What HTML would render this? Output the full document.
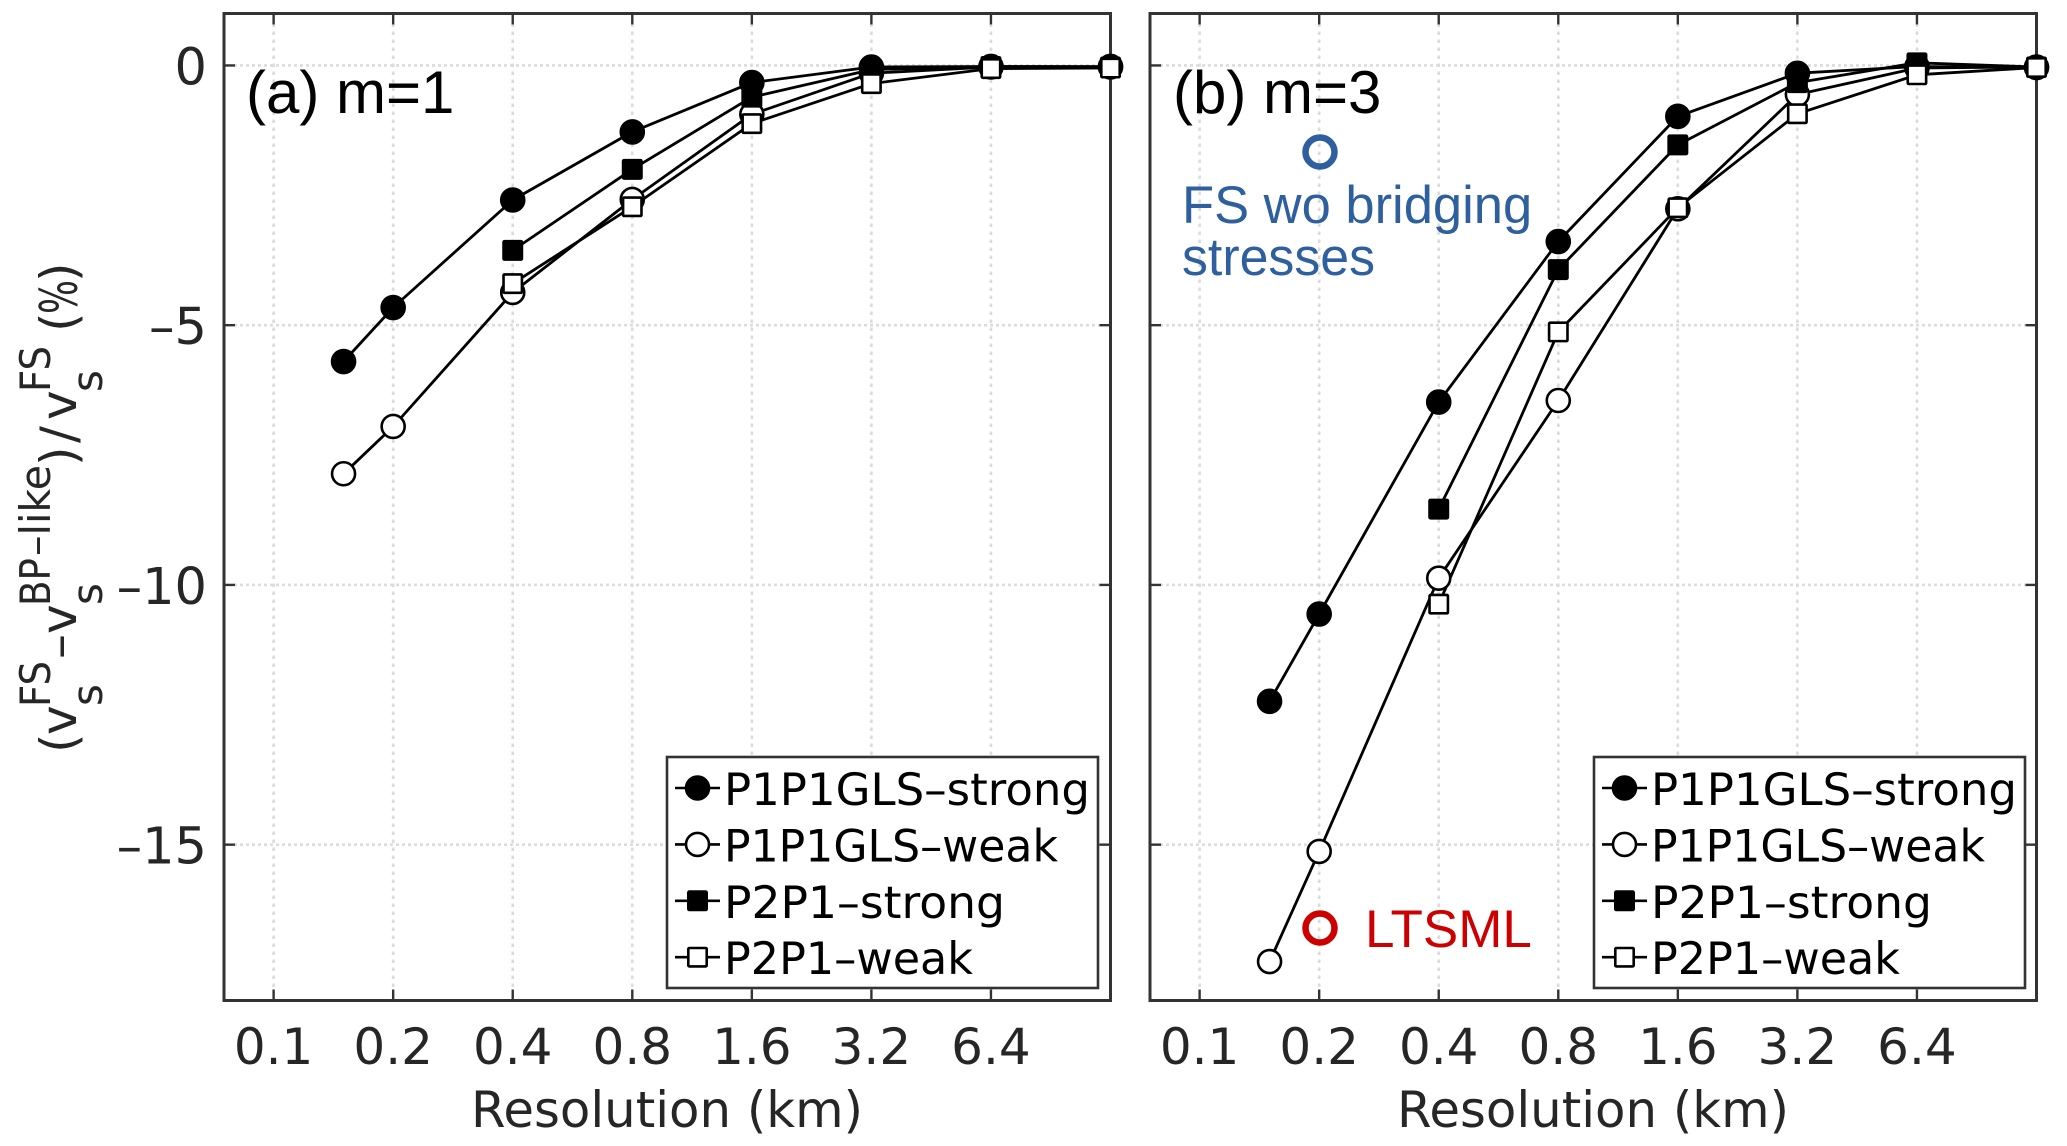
<!DOCTYPE html>
<html lang="en">
<head>
<meta charset="utf-8">
<title>Relative velocity difference versus resolution</title>
<style>
  html, body { margin: 0; padding: 0; background: #fff; }
  svg { display: block; }
  text { font-family: "DejaVu Sans", sans-serif; }
</style>
</head>
<body>
<svg id="figure" xmlns="http://www.w3.org/2000/svg" width="2067" height="1146" viewBox="0 0 2067 1146">
  <rect x="0" y="0" width="2067" height="1146" fill="#ffffff"/>
  <g id="panel-a"></g>
  <g id="panel-b"></g>

  <g fill="#262626">
    <text transform="translate(76,753) rotate(-90)" font-size="50">(</text>
    <text transform="translate(76,735) rotate(-90)" font-size="50">v</text>
    <text transform="translate(50,707) rotate(-90)" font-size="42" textLength="46" lengthAdjust="spacingAndGlyphs">FS</text>
    <text transform="translate(102,706) rotate(-90)" font-size="42">s</text>
    <text transform="translate(76,659) rotate(-90)" font-size="50">–</text>
    <text transform="translate(76,634) rotate(-90)" font-size="50">v</text>
    <text transform="translate(50,606) rotate(-90)" font-size="42" textLength="48" lengthAdjust="spacingAndGlyphs">BP</text>
    <text transform="translate(102,605) rotate(-90)" font-size="42">s</text>
    <text transform="translate(50,556) rotate(-90)" font-size="42" textLength="91" lengthAdjust="spacingAndGlyphs">–like</text>
    <text transform="translate(76,466) rotate(-90)" font-size="50">)</text>
    <text transform="translate(76,443) rotate(-90)" font-size="50">/</text>
    <text transform="translate(76,420) rotate(-90)" font-size="50">v</text>
    <text transform="translate(50,392) rotate(-90)" font-size="42" textLength="46" lengthAdjust="spacingAndGlyphs">FS</text>
    <text transform="translate(102,392) rotate(-90)" font-size="42">s</text>
    <text transform="translate(76,332) rotate(-90)" font-size="50">(</text>
    <text transform="translate(77,314) rotate(-90)" font-size="52" textLength="34" lengthAdjust="spacingAndGlyphs">%</text>
    <text transform="translate(76,282) rotate(-90)" font-size="50">)</text>
  </g>

  <g>
    <circle cx="1320" cy="152" r="14.5" fill="none" stroke="#2e5f9e" stroke-width="6.5"/>
    <text x="1182" y="223" font-size="52.5" fill="#2e5f9e" style="font-family:'Liberation Sans',sans-serif">FS wo bridging</text>
    <text x="1182" y="275" font-size="52.5" fill="#2e5f9e" textLength="193" lengthAdjust="spacingAndGlyphs" style="font-family:'Liberation Sans',sans-serif">stresses</text>
  </g>
  <g>
    <circle cx="1320" cy="928" r="14.5" fill="none" stroke="#cc0000" stroke-width="6.5"/>
    <text x="1365" y="947" font-size="53" fill="#cc0000" style="font-family:'Liberation Sans',sans-serif">LTSML</text>
  </g>
</svg>

<script>
// ---- chart data ----
var resolutions = [0.15, 0.2, 0.4, 0.8, 1.6, 3.2, 6.4, 12.8];
var xTickValues = [0.1, 0.2, 0.4, 0.8, 1.6, 3.2, 6.4];
var xTickLabels = ['0.1', '0.2', '0.4', '0.8', '1.6', '3.2', '6.4'];
var yTickValues = [0, -5, -10, -15];
var yTickLabels = ['0', '–5', '–10', '–15'];
var seriesNames = ['P1P1GLS–strong', 'P1P1GLS–weak', 'P2P1–strong', 'P2P1–weak'];

var panelAStrongGls = [-5.70, -4.66, -2.59, -1.28, -0.33, -0.03, -0.02, -0.02];
var panelAWeakGls   = [-7.86, -6.95, -4.37, -2.58, -0.94, -0.15, -0.03, -0.03];
var panelAStrongP2  = [null, null, -3.56, -2.00, -0.61, -0.08, -0.02, -0.03];
var panelAWeakP2    = [null, null, -4.20, -2.72, -1.12, -0.35, -0.06, -0.05];

var panelBStrongGls = [-12.24, -10.56, -6.48, -3.39, -0.98, -0.15, -0.02, -0.04];
var panelBWeakGls   = [-17.25, -15.13, -9.87, -6.45, -2.76, -0.56, -0.05, -0.03];
var panelBStrongP2  = [null, null, -8.54, -3.93, -1.53, -0.33, 0.05, -0.03];
var panelBWeakP2    = [null, null, -10.37, -5.13, -2.74, -0.93, -0.18, -0.04];

// ---- layout ----
var NS = 'http://www.w3.org/2000/svg';
var TOP = 13.5, BOTTOM = 1000.5;
var INK = '#333333';
var TEXT = '#262626';

function xScale(left, v) {
  var lo = Math.log2(0.075), hi = Math.log2(12.8);
  return left + (Math.log2(v) - lo) / (hi - lo) * 886.5;
}
function yScale(v) {
  return TOP + (1 - v) / 19 * (BOTTOM - TOP);
}
function node(parent, tag, attrs) {
  var el = document.createElementNS(NS, tag);
  for (var k in attrs) { el.setAttribute(k, attrs[k]); }
  parent.appendChild(el);
  return el;
}
function marker(parent, kind, x, y) {
  var el;
  if (kind === 0 || kind === 1) {
    el = node(parent, 'circle', { cx: x, cy: y, r: 11.5, fill: kind === 0 ? '#000' : '#fff', stroke: '#000', 'stroke-width': 2.6 });
  } else {
    el = node(parent, 'rect', { x: x - 9.2, y: y - 9.2, width: 18.4, height: 18.4, rx: 1, fill: kind === 2 ? '#000' : '#fff', stroke: '#000', 'stroke-width': 2.6 });
  }
  return el;
}
function legendTextLength(index) {
  if (index === 0) { return 366; }
  if (index === 1) { return 334; }
  if (index === 2) { return 281; }
  return 249;
}

function drawPanel(group, left, legendLeft, title, titleX, seriesList) {
  var right = left + 886.5;

  xTickValues.forEach(function (v, i) {
    var x = xScale(left, v);
    var grid = node(group, 'line', { x1: x, x2: x, y1: TOP + 10, y2: BOTTOM - 10, stroke: '#dcdcdc', 'stroke-width': 2.6, 'stroke-dasharray': '3.5 4.5' });
    
    
  });
  yTickValues.forEach(function (v) {
    var y = yScale(v);
    var grid = node(group, 'line', { x1: left + 10, x2: right - 10, y1: y, y2: y, stroke: '#dcdcdc', 'stroke-width': 2.6, 'stroke-dasharray': '3 3' });
    
    
  });

  seriesList.forEach(function (values, s) {
    var pts = [];
    values.forEach(function (v, i) {
      if (v !== null) { pts.push(xScale(left, resolutions[i]).toFixed(1) + ',' + yScale(v).toFixed(1)); }
    });
    var line = node(group, 'polyline', { points: pts.join(' '), fill: 'none', stroke: '#000', 'stroke-width': 2.8, 'stroke-linejoin': 'round' });
    
    
  });

  var frame = node(group, 'rect', { x: left, y: TOP, width: 886.5, height: BOTTOM - TOP, fill: 'none', stroke: INK, 'stroke-width': 3 });
  
  

  xTickValues.forEach(function (v, i) {
    var x = xScale(left, v);
    var t1 = node(group, 'line', { x1: x, x2: x, y1: TOP, y2: TOP + 11, stroke: INK, 'stroke-width': 2.4 });
    
    
    var t2 = node(group, 'line', { x1: x, x2: x, y1: BOTTOM - 11, y2: BOTTOM, stroke: INK, 'stroke-width': 2.4 });
    
    
    var label = node(group, 'text', { x: x, y: 1064, 'font-size': 50, 'text-anchor': 'middle', fill: TEXT });
    label.textContent = xTickLabels[i];
    
    
  });
  yTickValues.forEach(function (v, i) {
    var y = yScale(v);
    var t1 = node(group, 'line', { x1: left, x2: left + 11, y1: y, y2: y, stroke: INK, 'stroke-width': 2.4 });
    
    
    var t2 = node(group, 'line', { x1: right - 11, x2: right, y1: y, y2: y, stroke: INK, 'stroke-width': 2.4 });
    
    
    if (left < 500) {
      var label = node(group, 'text', { x: 207, y: y + 19, 'font-size': 51, 'text-anchor': 'end', fill: TEXT });
      label.textContent = yTickLabels[i];
      
      
    }
  });

  seriesList.forEach(function (values, s) {
    values.forEach(function (v, i) {
      if (v !== null) {
        var m = marker(group, s, xScale(left, resolutions[i]), yScale(v));
        
        
      }
    });
  });

  var xTitle = node(group, 'text', { x: left + 443, y: 1127, 'font-size': 50, 'text-anchor': 'middle', fill: TEXT, textLength: 392, lengthAdjust: 'spacingAndGlyphs' });
  xTitle.textContent = 'Resolution (km)';
  
  

  var panelTitle = node(group, 'text', { x: titleX, y: 113, 'font-size': 60, fill: '#000', style: "font-family:'Liberation Sans',sans-serif" });
  panelTitle.textContent = title;
  
  

  var legend = node(group, 'g', {});
  
  
  var box = node(legend, 'rect', { x: legendLeft, y: 757, width: 431, height: 231, fill: '#fff', stroke: INK, 'stroke-width': 2.6 });
  
  
  seriesNames.forEach(function (name, s) {
    var cy = 788 + s * 56.4;
    var lx = legendLeft + 8;
    var ll = node(legend, 'line', { x1: lx, x2: lx + 45, y1: cy, y2: cy, stroke: '#000', 'stroke-width': 2.6 });
    
    
    var lm = marker(legend, s, lx + 22.5, cy);
    
    
    var lt = node(legend, 'text', { x: legendLeft + 57, y: cy + 17, 'font-size': 44.5, fill: '#000', textLength: legendTextLength(s), lengthAdjust: 'spacingAndGlyphs' });
    lt.textContent = name;
    
    
  });
}

drawPanel(document.getElementById('panel-a'), 224, 667, '(a) m=1', 246,
  [panelAStrongGls, panelAWeakGls, panelAStrongP2, panelAWeakP2]);
drawPanel(document.getElementById('panel-b'), 1150, 1594, '(b) m=3', 1173,
  [panelBStrongGls, panelBWeakGls, panelBStrongP2, panelBWeakP2]);
</script>
</body>
</html>
